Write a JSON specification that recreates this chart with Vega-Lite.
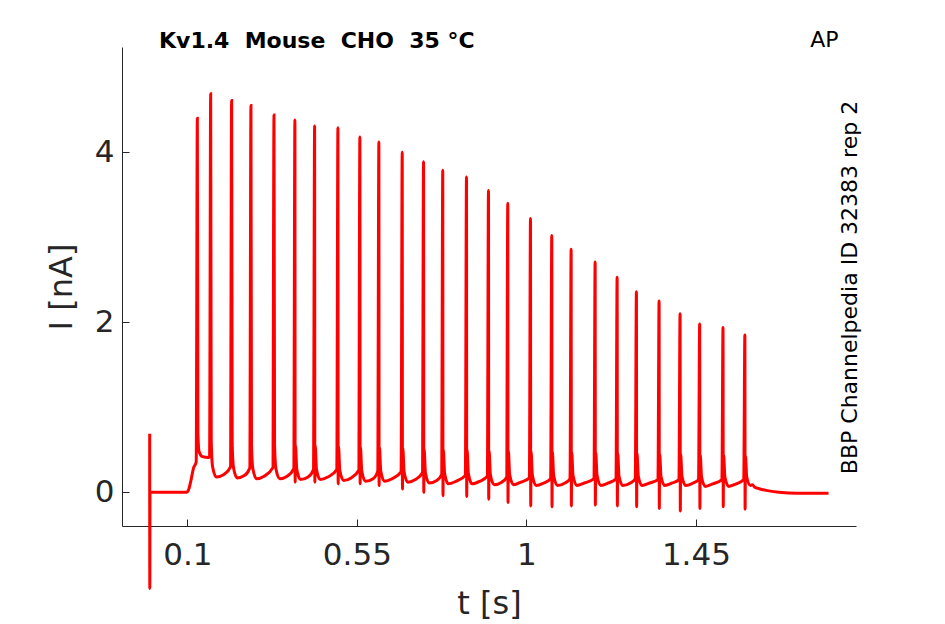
{
  "$schema": "https://vega.github.io/schema/vega-lite/v6.json",
  "autosize": "none",
  "width": 734,
  "height": 479,
  "padding": {"left": 122, "top": 47, "right": 89, "bottom": 98},
  "background": "white",
  "config": {
    "font": "DejaVu Sans",
    "view": {"stroke": null},
    "axis": {
      "grid": false,
      "domainColor": "#262626",
      "domainWidth": 1,
      "tickColor": "#262626",
      "tickSize": -7,
      "labelColor": "#262626",
      "labelFontSize": 31,
      "labelFont": "DejaVu Sans",
      "titleColor": "#262626",
      "titleFontSize": 32,
      "titleFontWeight": "normal",
      "titleFont": "DejaVu Sans"
    }
  },
  "title": {
    "text": "Kv1.4 \u00a0Mouse \u00a0CHO \u00a035 °C",
    "anchor": "start",
    "frame": "group",
    "dx": 37,
    "dy": 42,
    "offset": 0,
    "baseline": "alphabetic",
    "fontSize": 22,
    "fontWeight": "bold",
    "color": "black",
    "font": "DejaVu Sans"
  },
  "data": {
    "values": [
      {"t": 0.0, "I": 0.69}, {"t": 0.0003, "I": -1.13}, {"t": 0.0008, "I": 0.0},
      {"t": 0.05, "I": 0.0}, {"t": 0.098, "I": 0.0}, {"t": 0.104, "I": 0.04},
      {"t": 0.11, "I": 0.15}, {"t": 0.116, "I": 0.28}, {"t": 0.1235, "I": 0.36},
      {"t": 0.1265, "I": 4.40}, {"t": 0.128, "I": 0.7}, {"t": 0.131, "I": 0.48},
      {"t": 0.14, "I": 0.42}, {"t": 0.155, "I": 0.41}, {"t": 0.159, "I": 0.42},
      {"t": 0.1619, "I": 4.69}, {"t": 0.1634, "I": 0.60}, {"t": 0.167, "I": 0.30},
      {"t": 0.177, "I": 0.18}, {"t": 0.197, "I": 0.21}, {"t": 0.2145, "I": 0.30},
      {"t": 0.2175, "I": 4.61}, {"t": 0.219, "I": 0.57}, {"t": 0.2225, "I": 0.29},
      {"t": 0.2325, "I": 0.17}, {"t": 0.2525, "I": 0.20}, {"t": 0.2658, "I": 0.29},
      {"t": 0.2688, "I": 4.55}, {"t": 0.2703, "I": 0.56}, {"t": 0.2738, "I": 0.28},
      {"t": 0.2838, "I": 0.16}, {"t": 0.3038, "I": 0.19}, {"t": 0.327, "I": 0.29},
      {"t": 0.330, "I": 4.44}, {"t": 0.3315, "I": 0.56}, {"t": 0.335, "I": 0.28},
      {"t": 0.345, "I": 0.16}, {"t": 0.365, "I": 0.19}, {"t": 0.3825, "I": 0.28},
      {"t": 0.3855, "I": 4.38}, {"t": 0.3861, "I": 0.12}, {"t": 0.387, "I": 0.55},
      {"t": 0.3905, "I": 0.27}, {"t": 0.4005, "I": 0.15}, {"t": 0.4205, "I": 0.18},
      {"t": 0.4348, "I": 0.27},
      {"t": 0.4378, "I": 4.31}, {"t": 0.4384, "I": 0.12}, {"t": 0.4393, "I": 0.55},
      {"t": 0.4428, "I": 0.27}, {"t": 0.4528, "I": 0.15}, {"t": 0.4728, "I": 0.18},
      {"t": 0.4967, "I": 0.27},
      {"t": 0.4997, "I": 4.29}, {"t": 0.5003, "I": 0.10}, {"t": 0.5012, "I": 0.54},
      {"t": 0.5047, "I": 0.26}, {"t": 0.5147, "I": 0.14}, {"t": 0.5347, "I": 0.17},
      {"t": 0.555, "I": 0.26},
      {"t": 0.558, "I": 4.18}, {"t": 0.5586, "I": 0.10}, {"t": 0.5595, "I": 0.53},
      {"t": 0.563, "I": 0.25}, {"t": 0.573, "I": 0.13}, {"t": 0.593, "I": 0.16},
      {"t": 0.6054, "I": 0.25},
      {"t": 0.6084, "I": 4.12}, {"t": 0.609, "I": 0.08}, {"t": 0.6099, "I": 0.53},
      {"t": 0.6134, "I": 0.25}, {"t": 0.6234, "I": 0.13}, {"t": 0.6434, "I": 0.16},
      {"t": 0.6674, "I": 0.24},
      {"t": 0.6704, "I": 4.00}, {"t": 0.671, "I": 0.04}, {"t": 0.6719, "I": 0.52},
      {"t": 0.6754, "I": 0.24}, {"t": 0.6854, "I": 0.12}, {"t": 0.7054, "I": 0.15},
      {"t": 0.724, "I": 0.23},
      {"t": 0.727, "I": 3.89}, {"t": 0.7276, "I": 0.0}, {"t": 0.7285, "I": 0.51},
      {"t": 0.732, "I": 0.23}, {"t": 0.742, "I": 0.11}, {"t": 0.762, "I": 0.14},
      {"t": 0.775, "I": 0.21},
      {"t": 0.778, "I": 3.79}, {"t": 0.7786, "I": -0.04}, {"t": 0.7795, "I": 0.50},
      {"t": 0.783, "I": 0.22}, {"t": 0.793, "I": 0.10}, {"t": 0.813, "I": 0.13},
      {"t": 0.838, "I": 0.20},
      {"t": 0.841, "I": 3.71}, {"t": 0.8416, "I": -0.05}, {"t": 0.8425, "I": 0.50},
      {"t": 0.846, "I": 0.22}, {"t": 0.856, "I": 0.10}, {"t": 0.876, "I": 0.13},
      {"t": 0.8964, "I": 0.19},
      {"t": 0.8994, "I": 3.55}, {"t": 0.9, "I": -0.08}, {"t": 0.9009, "I": 0.49},
      {"t": 0.9044, "I": 0.21}, {"t": 0.9144, "I": 0.09}, {"t": 0.9344, "I": 0.12},
      {"t": 0.9476, "I": 0.18},
      {"t": 0.9506, "I": 3.40}, {"t": 0.9512, "I": -0.12}, {"t": 0.9521, "I": 0.49},
      {"t": 0.9556, "I": 0.21}, {"t": 0.9656, "I": 0.09}, {"t": 0.9856, "I": 0.12},
      {"t": 1.0079, "I": 0.17},
      {"t": 1.0109, "I": 3.22}, {"t": 1.0115, "I": -0.16}, {"t": 1.0124, "I": 0.48},
      {"t": 1.0159, "I": 0.20}, {"t": 1.0259, "I": 0.08}, {"t": 1.0459, "I": 0.11},
      {"t": 1.0644, "I": 0.16},
      {"t": 1.0674, "I": 3.02}, {"t": 1.068, "I": -0.17}, {"t": 1.0689, "I": 0.48},
      {"t": 1.0724, "I": 0.20}, {"t": 1.0824, "I": 0.08}, {"t": 1.1024, "I": 0.11},
      {"t": 1.1158, "I": 0.16},
      {"t": 1.1188, "I": 2.86}, {"t": 1.1194, "I": -0.16}, {"t": 1.1203, "I": 0.47},
      {"t": 1.1238, "I": 0.20}, {"t": 1.1338, "I": 0.08}, {"t": 1.1538, "I": 0.11},
      {"t": 1.1795, "I": 0.16},
      {"t": 1.1825, "I": 2.71}, {"t": 1.1831, "I": -0.15}, {"t": 1.184, "I": 0.47},
      {"t": 1.1875, "I": 0.20}, {"t": 1.1975, "I": 0.08}, {"t": 1.2175, "I": 0.11},
      {"t": 1.2379, "I": 0.16},
      {"t": 1.2409, "I": 2.53}, {"t": 1.2415, "I": -0.16}, {"t": 1.2424, "I": 0.46},
      {"t": 1.2459, "I": 0.19}, {"t": 1.2559, "I": 0.08}, {"t": 1.2759, "I": 0.11},
      {"t": 1.2891, "I": 0.16},
      {"t": 1.2921, "I": 2.36}, {"t": 1.2927, "I": -0.17}, {"t": 1.2936, "I": 0.46},
      {"t": 1.2971, "I": 0.19}, {"t": 1.3071, "I": 0.08}, {"t": 1.3271, "I": 0.11},
      {"t": 1.3493, "I": 0.15},
      {"t": 1.3523, "I": 2.25}, {"t": 1.3529, "I": -0.19}, {"t": 1.3538, "I": 0.45},
      {"t": 1.3573, "I": 0.19}, {"t": 1.3673, "I": 0.08}, {"t": 1.3873, "I": 0.11},
      {"t": 1.405, "I": 0.15},
      {"t": 1.408, "I": 2.10}, {"t": 1.4086, "I": -0.22}, {"t": 1.4095, "I": 0.45},
      {"t": 1.413, "I": 0.19}, {"t": 1.423, "I": 0.08}, {"t": 1.443, "I": 0.11},
      {"t": 1.457, "I": 0.15},
      {"t": 1.46, "I": 1.98}, {"t": 1.4606, "I": -0.19}, {"t": 1.4615, "I": 0.44},
      {"t": 1.465, "I": 0.18}, {"t": 1.475, "I": 0.07}, {"t": 1.495, "I": 0.10},
      {"t": 1.519, "I": 0.15},
      {"t": 1.522, "I": 1.94}, {"t": 1.5226, "I": -0.17}, {"t": 1.5235, "I": 0.44},
      {"t": 1.527, "I": 0.18}, {"t": 1.537, "I": 0.07}, {"t": 1.557, "I": 0.10},
      {"t": 1.577, "I": 0.15},
      {"t": 1.58, "I": 1.85}, {"t": 1.5806, "I": -0.20}, {"t": 1.5815, "I": 0.43},
      {"t": 1.585, "I": 0.18}, {"t": 1.595, "I": 0.08}, {"t": 1.6, "I": 0.09},
      {"t": 1.606, "I": 0.06}, {"t": 1.62, "I": 0.04}, {"t": 1.64, "I": 0.02},
      {"t": 1.67, "I": 0.0}, {"t": 1.72, "I": -0.01}, {"t": 1.76, "I": -0.01},
      {"t": 1.802, "I": -0.01}
    ]
  },
  "layer": [
    {
      "mark": {"type": "line", "color": "#ff0000", "strokeWidth": 3, "interpolate": "monotone", "clip": false},
      "encoding": {
        "x": {
          "field": "t",
          "type": "quantitative",
          "scale": {"domain": [-0.0735, 1.875], "nice": false, "zero": false},
          "axis": {
            "orient": "bottom",
            "title": "t [s]",
            "values": [0.1, 0.55, 1, 1.45],
            "labelExpr": "format(datum.value, '.2~f')",
            "labelPadding": 21,
            "titlePadding": 18
          }
        },
        "y": {
          "field": "I",
          "type": "quantitative",
          "scale": {"domain": [-0.396, 5.239], "nice": false, "zero": false},
          "axis": {
            "orient": "left",
            "title": "I [nA]",
            "values": [0, 2, 4],
            "labelPadding": 15,
            "titlePadding": 16
          }
        }
      }
    },
    {
      "mark": {"type": "line", "strokeOpacity": 0},
      "encoding": {
        "x": {
          "field": "t",
          "type": "quantitative",
          "axis": {
            "orient": "top",
            "title": "AP",
            "domain": false,
            "ticks": false,
            "labels": false,
            "titleFontSize": 22,
            "titleColor": "black",
            "titleAlign": "right",
            "titleBaseline": "alphabetic",
            "titleX": 716,
            "titleY": -1
          }
        },
        "y": {
          "field": "I",
          "type": "quantitative",
          "axis": {
            "orient": "right",
            "title": "BBP Channelpedia ID 32383 rep 2",
            "domain": false,
            "ticks": false,
            "labels": false,
            "titleFontSize": 22,
            "titleColor": "black",
            "titleAngle": 270,
            "titleAlign": "center",
            "titleBaseline": "alphabetic",
            "titleX": 0,
            "titleY": 240
          }
        }
      }
    }
  ],
  "resolve": {"axis": {"x": "independent", "y": "independent"}}
}
